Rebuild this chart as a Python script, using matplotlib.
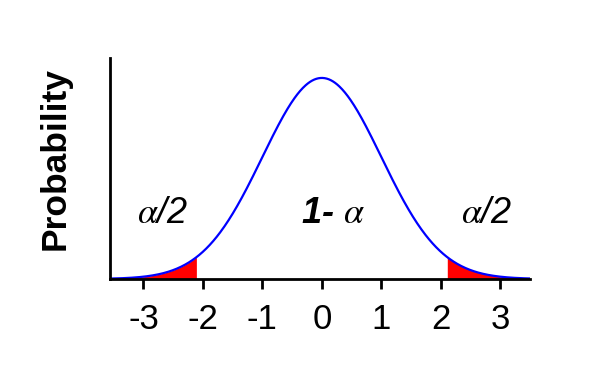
import numpy as np
import matplotlib.pyplot as plt

plt.rcParams['font.family'] = ['Liberation Sans', 'DejaVu Sans']
plt.rcParams['mathtext.fontset'] = 'stix'

# normal curve parameters and critical value for the shaded tails
mu = 0.0
sigma = 1.0
z_crit = 2.1
x_range = [-3.56, 3.5]

tick_vals = [-3, -2, -1, 0, 1, 2, 3]
tick_labels = ['-3', '-2', '-1', '0', '1', '2', '3']

labels = [r'$\alpha$/2', r'1- $\alpha$', r'$\alpha$/2']
label_x = [-2.67, 0.18, 2.77]
label_y = [0.13, 0.13, 0.13]

x = np.linspace(x_range[0], x_range[1], 600)
y = np.exp(-0.5 * ((x - mu) / sigma) ** 2) / (sigma * np.sqrt(2 * np.pi))

fig = plt.figure(figsize=(6.12, 3.89), dpi=100)
ax = fig.add_axes([0.18, 0.283, 0.686, 0.568])

ax.fill_between(x, 0, y, where=(x <= -z_crit), color='red', lw=0)
ax.fill_between(x, 0, y, where=(x >= z_crit), color='red', lw=0)
ax.plot(x, y, color='blue', lw=1.6)

ax.set_xlim(x_range)
ax.set_ylim(0, 0.4386)

for i in range(len(labels)):
    if i == 1:
        ax.text(label_x[i], label_y[i], labels[i], fontsize=26, style='italic',
                weight='bold', ha='center', va='center')
    else:
        ax.text(label_x[i], label_y[i], labels[i], fontsize=26, style='italic',
                ha='center', va='center')

ax.set_xticks(tick_vals)
ax.set_xticklabels(tick_labels, fontsize=25)
ax.set_yticks([])
ax.tick_params(axis='x', direction='out', length=7, width=2, pad=10)

for s in ['top', 'right']:
    ax.spines[s].set_visible(False)
ax.spines['left'].set_linewidth(2)
ax.spines['bottom'].set_linewidth(2)

fig.text(55 / 612, 1 - 158.5 / 389, 'Probability', fontsize=25.5, weight='bold',
         rotation=90, ha='center', va='center')

fig.savefig('out.png', dpi=100)
